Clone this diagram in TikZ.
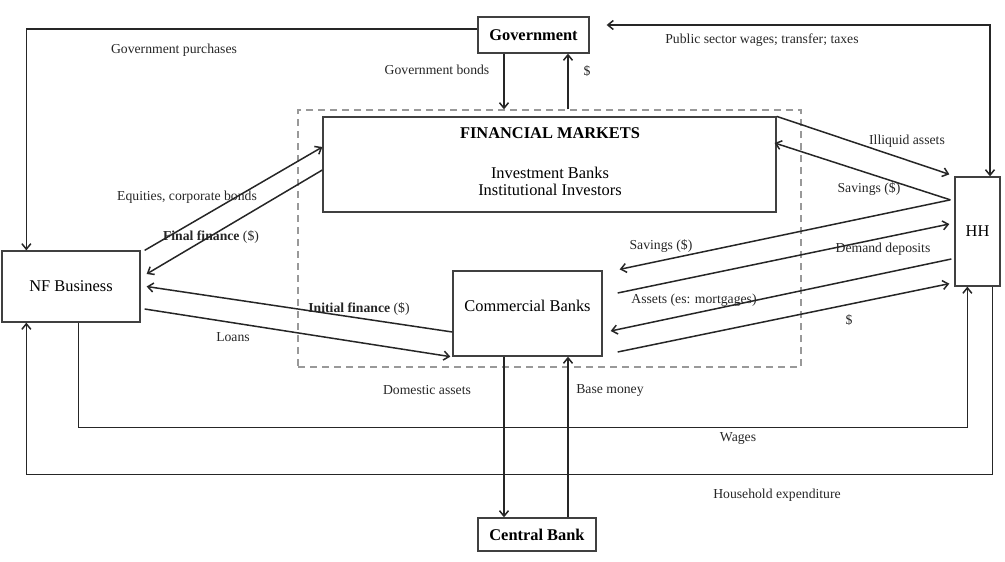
\documentclass[tikz,border=0pt]{standalone}
\usepackage{fontspec}
\setmainfont{Liberation Serif}
\usetikzlibrary{arrows.meta}
\tikzset{
  box/.style={draw=black!75, line width=1.3pt, inner sep=0pt, fill=white},
  boxfont/.style={font=\fontsize{16.4}{19}\selectfont},
  lbl/.style={inner sep=0pt, font=\fontsize{13.7}{16}\selectfont, text=black!85},
  flow/.style={draw=black!85, line width=1.5pt},
  arr/.style={flow, -{Straight Barb[length=5.5pt,width=9pt]}},
  darr/.style={flow, {Straight Barb[length=5.5pt,width=9pt]}-{Straight Barb[length=5.5pt,width=9pt]}},
  dashbox/.style={draw=black!40, line width=1.3pt, dash pattern=on 7pt off 5pt, inner sep=0pt}
}
\begin{document}
\begin{tikzpicture}[x=1pt,y=-1pt]
\useasboundingbox (0,0) rectangle (1005,562);
% dashed region
\node[dashbox, minimum width=503pt, minimum height=257pt] (fin) at (549.5,238.5) {};
% boxes
\node[box, boxfont, minimum width=111pt, minimum height=36pt] (gov) at (533.5,35) {\textbf{Government}};
\node[box, minimum width=453pt, minimum height=95pt] (fm) at (549.5,164.5) {};
\node[boxfont, inner sep=0pt] (fmtitle) at (550,133) {\textbf{FINANCIAL MARKETS}};
\node[boxfont, inner sep=0pt, align=center] (fmtext) at (550,181) {Investment Banks\\[-2pt]Institutional Investors};
\node[box, boxfont, minimum width=138pt, minimum height=71pt] (nf) at (71,286.5) {NF Business};
\node[box, minimum width=149pt, minimum height=85pt] (cb) at (527.5,313.5) {};
\node[boxfont, inner sep=0pt] (cbtext) at (527.5,306) {Commercial Banks};
\node[box, boxfont, minimum width=45pt, minimum height=109pt] (hh) at (977.5,231.5) {HH};
\node[box, boxfont, minimum width=118pt, minimum height=33pt] (central) at (537,534.5) {\textbf{Central Bank}};
\coordinate (sv) at ([xshift=-4pt,yshift=-23.5pt]hh.north west);

% government connectors
\draw[arr] ([yshift=6pt]gov.west) -| ([xshift=25pt]nf.north west);
\draw[arr] ([xshift=-29.5pt]gov.south) -- ([xshift=-29.5pt]gov.south |- fin.north);
\draw[arr] ([xshift=34.5pt]gov.south |- fin.north) -- ([xshift=34.5pt]gov.south);
\draw[darr] ([xshift=17pt,yshift=10pt]gov.east) -| ([xshift=12.5pt]hh.north);

% NF business <-> financial markets / commercial banks
\draw[arr] ([xshift=4pt]nf.north east) -- ([yshift=17.5pt]fm.west);
\draw[arr] ([yshift=-5.5pt]fm.west) -- ([xshift=6pt,yshift=12.5pt]nf.east);
\draw[arr] ([yshift=-18.5pt]cb.west) -- ([xshift=6pt]nf.east);
\draw[arr] ([xshift=4pt,yshift=-22.5pt]nf.east) -- ([xshift=-2pt]cb.south west);

% HH <-> financial markets / commercial banks
\draw[arr] (fm.north east) -- ([xshift=-5pt,yshift=2pt]hh.north west);
\draw[arr] (sv) -- ([xshift=-2pt,yshift=21.5pt]fm.east);
\draw[arr] (sv) -- ([xshift=17pt,yshift=1pt]cb.north east);
\draw[arr] ([xshift=15pt,yshift=20.5pt]cb.east) -- ([xshift=-5pt,yshift=7.5pt]hh.west);
\draw[arr] ([xshift=-3pt,yshift=-27.5pt]hh.west) -- ([xshift=8pt,yshift=-17.5pt]cb.east);
\draw[arr] ([xshift=15pt,yshift=-38.5pt]cb.east) -- ([xshift=-5pt,yshift=3pt]hh.south west);

% central bank
\draw[arr] ([xshift=-33pt]central.north |- cb.south) -- ([xshift=-33pt]central.north);
\draw[arr] ([xshift=31pt]central.north) -- ([xshift=31pt]central.north |- cb.south);

% wages and household expenditure
\draw[arr] ([xshift=77pt]nf.south west) -- ++(0,105) -| ([xshift=13pt]hh.south west);
\draw[arr] ([xshift=38pt]hh.south west) -- ++(0,188) -| ([xshift=25pt]nf.south west);

% labels
\node[lbl] (l1) at (174,50) {Government purchases};
\node[lbl] (l2) at (437,70) {Government bonds};
\node[lbl] (l3) at (587,71) {\$};
\node[lbl] (l4) at (762,40) {Public sector wages; transfer; taxes};
\node[lbl] (l5) at (187,197) {Equities, corporate bonds};
\node[lbl] (l6) at (211,237) {\textbf{Final finance} (\$)};
\node[lbl] (l7) at (359,309) {\textbf{Initial finance} (\$)};
\node[lbl] (l8) at (233,337) {Loans};
\node[lbl] (l9) at (907,141) {Illiquid assets};
\node[lbl] (l10) at (869,189) {Savings (\$)};
\node[lbl] (l11) at (661,246) {Savings (\$)};
\node[lbl] (l12) at (883,249) {Demand deposits};
\node[lbl] (l13) at (694,300) {Assets (es: mortgages)};
\node[lbl] (l14) at (849,320) {\$};
\node[lbl] (l15) at (427,390) {Domestic assets};
\node[lbl] (l16) at (610,390) {Base money};
\node[lbl] (l17) at (738,438) {Wages};
\node[lbl] (l18) at (777,495) {Household expenditure};
\end{tikzpicture}
\end{document}
